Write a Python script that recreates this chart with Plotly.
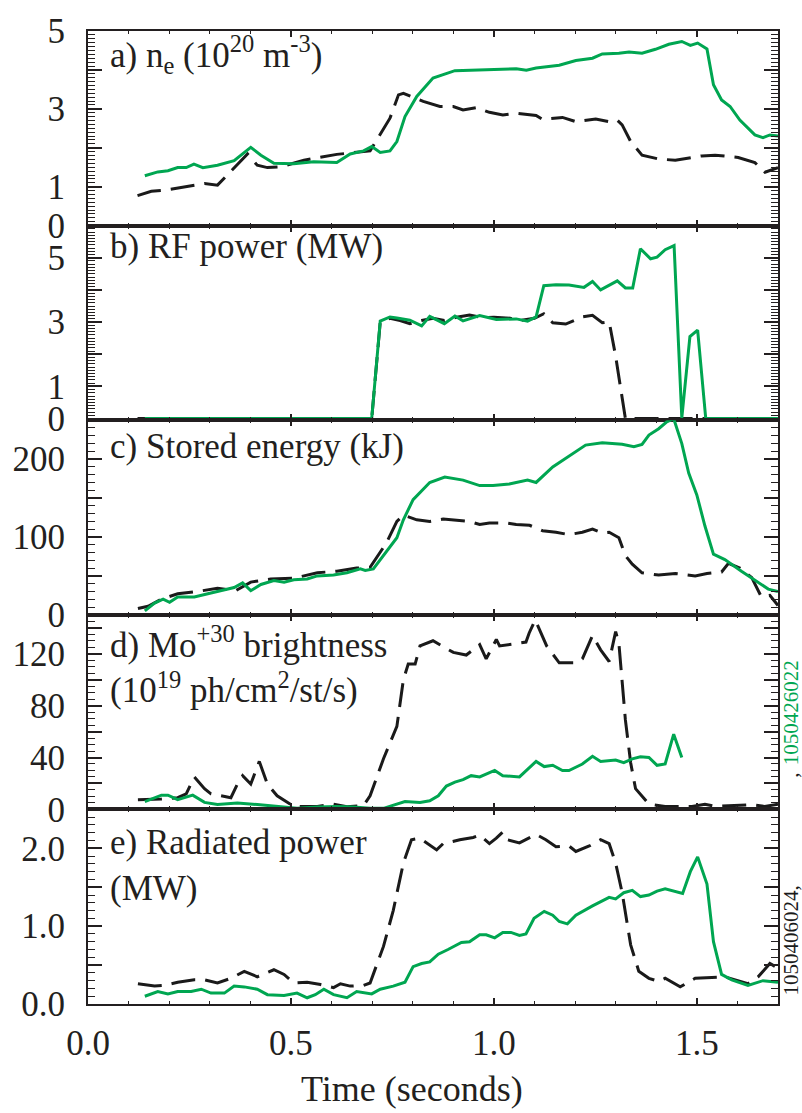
import plotly.graph_objects as go
from plotly.subplots import make_subplots

# ---------------- data ----------------
# a) electron density (1e20 m^-3)
ta_k = [0.122,0.156,0.189,0.287,0.319,0.393,0.417,0.442,0.475,0.532,0.613,0.695,0.744,0.765,0.777,0.826,0.867,0.900,0.924,0.957,0.989,1.022,1.055,1.104,1.120,1.169,1.202,1.251,1.284,1.304,1.316,1.337,1.365,1.406,1.447,1.512,1.545,1.602,1.643,1.668,1.700]
ne_k = [0.77,0.88,0.91,1.08,1.04,1.84,1.55,1.49,1.51,1.68,1.83,1.92,2.76,3.36,3.40,3.19,3.06,3.06,2.97,3.03,2.91,2.84,2.89,2.83,2.73,2.78,2.67,2.74,2.67,2.71,2.59,2.16,1.81,1.71,1.68,1.79,1.81,1.75,1.62,1.37,1.49]
ta_g = [0.140,0.172,0.197,0.221,0.242,0.261,0.283,0.319,0.360,0.401,0.426,0.458,0.507,0.556,0.613,0.646,0.679,0.699,0.720,0.744,0.761,0.781,0.810,0.850,0.904,0.973,1.055,1.080,1.104,1.161,1.202,1.243,1.267,1.308,1.333,1.365,1.398,1.431,1.463,1.484,1.502,1.525,1.541,1.561,1.582,1.606,1.643,1.663,1.680,1.700]
ne_g = [1.28,1.38,1.41,1.49,1.49,1.58,1.49,1.55,1.67,2.01,1.81,1.60,1.59,1.64,1.62,1.84,1.92,2.03,1.88,1.92,2.16,2.80,3.32,3.79,3.98,4.00,4.03,3.99,4.05,4.12,4.24,4.30,4.41,4.43,4.46,4.43,4.53,4.66,4.73,4.63,4.69,4.54,3.62,3.23,3.06,2.71,2.33,2.26,2.33,2.30]

# b) RF power (MW)
tb_k = [0.122,0.699,0.720,0.744,0.769,0.793,0.822,0.850,0.878,0.908,0.940,0.970,1.000,1.040,1.065,1.100,1.123,1.145,1.177,1.218,1.243,1.267,1.284,1.300,1.324,1.700]
rf_k = [0,0,3.00,3.12,3.05,2.95,3.05,3.12,3.05,3.15,3.22,3.14,3.15,3.12,3.05,3.12,3.26,2.98,2.94,3.16,3.21,2.98,3.01,1.94,0,0]
tb_g = [0.140,0.699,0.720,0.744,0.761,0.793,0.822,0.842,0.878,0.904,0.924,0.965,1.006,1.055,1.083,1.104,1.123,1.153,1.185,1.222,1.243,1.263,1.304,1.324,1.342,1.361,1.386,1.402,1.422,1.444,1.463,1.483,1.502,1.522,1.700]
rf_g = [0,0,3.03,3.16,3.13,3.06,2.88,3.18,2.95,3.19,3.04,3.20,3.08,3.10,3.03,3.16,4.13,4.16,4.15,4.08,4.26,4.00,4.28,4.06,4.06,5.28,4.97,5.02,5.25,5.38,0.02,2.55,2.75,0,0]

# c) stored energy (kJ)
tc_k = [0.123,0.148,0.181,0.221,0.270,0.319,0.364,0.401,0.450,0.507,0.532,0.565,0.613,0.662,0.695,0.736,0.761,0.777,0.810,0.842,0.875,0.900,0.940,0.965,0.989,1.030,1.055,1.088,1.120,1.153,1.185,1.218,1.243,1.267,1.284,1.308,1.324,1.341,1.365,1.406,1.447,1.496,1.525,1.561,1.578,1.606,1.635,1.659,1.680,1.700]
we_k = [8,11,20,27,30,34,31,42,46,47,50,54,56,60,61,93,120,128,122,120,123,122,120,116,118,118,116,115,108,106,103,106,110,105,106,99,76,65,54,51,53,50,53,55,66,60,48,23,25,12]
tc_g = [0.140,0.164,0.185,0.201,0.221,0.262,0.303,0.360,0.381,0.401,0.426,0.458,0.483,0.507,0.540,0.565,0.605,0.638,0.671,0.683,0.703,0.744,0.761,0.777,0.801,0.842,0.879,0.924,0.965,0.998,1.038,1.083,1.104,1.145,1.185,1.226,1.267,1.316,1.345,1.365,1.382,1.406,1.426,1.443,1.463,1.480,1.500,1.520,1.541,1.569,1.610,1.643,1.676,1.700]
we_g = [5,15,20,16,23,23,28,35,41,31,39,44,42,45,46,50,51,54,59,57,59,88,99,122,148,170,177,173,166,166,168,173,170,190,204,218,221,219,216,219,231,239,248,252,220,182,154,114,78,71,56,44,33,30]

# d) Mo+30 brightness (1e19 ph/cm2/st/s)
td_k = [0.123,0.181,0.221,0.242,0.262,0.287,0.303,0.352,0.368,0.381,0.401,0.422,0.442,0.466,0.507,0.565,0.605,0.638,0.679,0.695,0.728,0.761,0.777,0.789,0.806,0.818,0.850,0.900,0.932,0.965,0.981,1.006,1.014,1.038,1.079,1.087,1.102,1.130,1.161,1.202,1.218,1.243,1.263,1.284,1.300,1.308,1.324,1.337,1.349,1.382,1.422,1.488,1.520,1.545,1.594,1.635,1.667,1.700]
mo_k = [7.5,8,9,12,25,16,12,9,19.5,26,19.5,37,19.5,10.5,2.3,2.3,4,2,3,10.5,39,64,100,112,112,126,130,121,119,127,116,131,126,127,129,136,146,126,113,113,116,134,123,114,137,128,69,36,16,4,2.3,2.3,4,2.3,3,3.6,2.3,4]
td_g = [0.140,0.181,0.197,0.221,0.258,0.287,0.319,0.368,0.417,0.466,0.515,0.565,0.613,0.654,0.695,0.728,0.781,0.818,0.842,0.863,0.883,0.904,0.924,0.944,0.965,1.002,1.022,1.063,1.104,1.124,1.145,1.169,1.185,1.218,1.243,1.263,1.300,1.320,1.341,1.361,1.382,1.402,1.422,1.443,1.463]
mo_g = [6,11,11,7.5,11,5.4,3.8,4.9,3.8,2.3,0.8,1.8,2.3,1.8,0.8,0.8,6,5.4,6.7,10.5,18,21,23,26,25,30,26,25,37,33,34,30,30,35,41,37,38,36,39,40.5,40,34,35,58,40]

# e) radiated power (MW)
te_k = [0.123,0.164,0.189,0.221,0.262,0.287,0.319,0.352,0.385,0.417,0.458,0.483,0.507,0.540,0.573,0.605,0.622,0.646,0.679,0.695,0.728,0.752,0.777,0.797,0.818,0.859,0.875,0.916,0.949,0.965,0.989,1.006,1.022,1.034,1.063,1.104,1.128,1.153,1.185,1.202,1.235,1.263,1.284,1.300,1.316,1.337,1.357,1.382,1.406,1.422,1.459,1.496,1.537,1.569,1.626,1.651,1.680,1.700]
pr_k = [0.26,0.23,0.24,0.28,0.31,0.31,0.27,0.33,0.42,0.35,0.44,0.38,0.27,0.28,0.25,0.21,0.26,0.23,0.24,0.27,0.74,1.20,1.81,2.11,2.13,1.98,2.06,2.11,2.14,2.17,2.06,2.13,2.21,2.11,2.07,2.18,2.11,2.02,2.03,1.96,2.03,2.11,2.06,1.81,1.43,0.76,0.42,0.33,0.29,0.33,0.22,0.33,0.34,0.35,0.26,0.35,0.52,0.46]
te_g = [0.140,0.172,0.197,0.221,0.254,0.279,0.303,0.336,0.360,0.385,0.417,0.442,0.483,0.515,0.540,0.560,0.581,0.605,0.638,0.662,0.699,0.720,0.752,0.781,0.801,0.822,0.842,0.863,0.887,0.920,0.940,0.965,0.981,1.002,1.022,1.042,1.063,1.079,1.099,1.124,1.145,1.161,1.181,1.202,1.243,1.284,1.300,1.320,1.341,1.361,1.382,1.402,1.422,1.443,1.465,1.484,1.502,1.525,1.541,1.561,1.586,1.626,1.663,1.700]
pr_g = [0.10,0.16,0.13,0.16,0.16,0.19,0.14,0.14,0.23,0.22,0.19,0.12,0.11,0.14,0.08,0.12,0.19,0.12,0.08,0.16,0.13,0.19,0.23,0.28,0.48,0.52,0.54,0.64,0.70,0.79,0.80,0.89,0.89,0.85,0.92,0.92,0.88,0.90,1.10,1.19,1.14,1.06,1.03,1.14,1.26,1.37,1.35,1.43,1.46,1.38,1.40,1.45,1.48,1.45,1.42,1.70,1.89,1.54,0.80,0.38,0.31,0.24,0.30,0.28]

# axis tick labels
x_ticks = [0.0, 0.5, 1.0, 1.5]
x_labels = ["0.0", "0.5", "1.0", "1.5"]
ya_vals = [0, 1, 2, 3, 4, 5];            ya_text = ["0", "1", "", "3", "", "5"]
yb_vals = [0, 1, 2, 3, 4, 5, 6];         yb_text = ["0", "1", "", "3", "", "5", ""]
yc_vals = [0, 50, 100, 150, 200, 250];   yc_text = ["0", "", "100", "", "200", ""]
yd_vals = [0, 20, 40, 60, 80, 100, 120, 140]; yd_text = ["0", "", "40", "", "80", "", "120", ""]
ye_vals = [0, 0.5, 1.0, 1.5, 2.0, 2.5];  ye_text = ["0.0", "", "1.0", "", "2.0", ""]

panel_labels = [
    "a) n<sub>e</sub> (10<sup>20</sup> m<sup>-3</sup>)",
    "b) RF power (MW)",
    "c) Stored energy (kJ)",
    "d) Mo<sup>+30</sup> brightness<br>(10<sup>19</sup> ph/cm<sup>2</sup>/st/s)",
    "e) Radiated power<br>(MW)",
]
shot_green = "1050426022"
shot_black = "1050406024,"

# ---------------- styling ----------------
GREEN = "#00a651"
BLACK = "#1a1a1a"
TXT = "#231f20"
FONT = "Liberation Serif, Times New Roman, serif"
FS = 35

W, H = 802, 1113
ML, MR, MT, MB = 83, 24, 23, 109
PH = H - MT - MB
PW = W - ML - MR

def py(ypx):
    return (H - MB - ypx) / PH

def px(xpx):
    return (xpx - ML) / PW

fig = make_subplots(rows=5, cols=1, shared_xaxes=True, vertical_spacing=0)

series = [(ta_k, ne_k, ta_g, ne_g), (tb_k, rf_k, tb_g, rf_g), (tc_k, we_k, tc_g, we_g),
          (td_k, mo_k, td_g, mo_g), (te_k, pr_k, te_g, pr_g)]
for i, (tk, yk, tg, yg) in enumerate(series, start=1):
    fig.add_trace(go.Scatter(x=tk, y=yk, mode="lines",
                             line=dict(color=BLACK, width=3, dash="24px,10px")), row=i, col=1)
    fig.add_trace(go.Scatter(x=tg, y=yg, mode="lines",
                             line=dict(color=GREEN, width=3)), row=i, col=1)

yspecs = [
    ([0, 5], ya_vals, ya_text, 0.1),
    ([-0.05, 6], yb_vals, yb_text, 0.1),
    ([0, 250], yc_vals, yc_text, 10),
    ([0, 150], yd_vals, yd_text, 5),
    ([0, 2.5], ye_vals, ye_text, 0.1),
]
for i, (rng, vals, text, mdt) in enumerate(yspecs, start=1):
    fig.update_yaxes(row=i, col=1, range=rng, tickmode="array", tickvals=vals, ticktext=text,
                     ticks="inside", ticklen=14, tickwidth=1.5, tickcolor=TXT,
                     minor=dict(ticks="inside", ticklen=7, dtick=mdt, tick0=0, tickwidth=1, tickcolor=TXT),
                     showline=True, linecolor=TXT, linewidth=2, mirror="ticks",
                     showgrid=False, zeroline=False, ticklabelstandoff=14,
                     tickfont=dict(family=FONT, size=FS, color=TXT))
    fig.update_xaxes(row=i, col=1, range=[0, 1.7], tickmode="array", tickvals=x_ticks, ticktext=x_labels,
                     ticks="inside", ticklen=6, tickwidth=1.5, tickcolor=TXT,
                     minor=dict(ticks="inside", ticklen=3, dtick=0.1, tick0=0, tickwidth=1, tickcolor=TXT),
                     showline=True, linecolor=TXT, linewidth=2, mirror="ticks",
                     showgrid=False, zeroline=False, showticklabels=(i == 5), ticklabelstandoff=7,
                     tickfont=dict(family=FONT, size=FS, color=TXT))

label_centers = [47, 240, 442, 662, 864]
annotations = []
for lab, yc in zip(panel_labels, label_centers):
    annotations.append(dict(text=lab, xref="paper", yref="paper", x=px(103),
                            y=py(yc), xanchor="left", yanchor="middle", align="left", showarrow=False,
                            font=dict(family=FONT, size=FS, color=TXT)))
annotations.append(dict(text="Time (seconds)", xref="paper", yref="paper", x=px(409),
                        y=py(1090), xanchor="center", yanchor="middle", showarrow=False,
                        font=dict(family=FONT, size=FS + 1, color=TXT)))
for txt, col, ymid in [(shot_green, GREEN, 710), (",", BLACK, 773), (shot_black, BLACK, 940)]:
    annotations.append(dict(text=txt, xref="paper", yref="paper", x=px(791), y=py(ymid), textangle=-90,
                            xanchor="center", yanchor="middle", showarrow=False, borderpad=0,
                            font=dict(family=FONT, size=21, color=col)))

fig.update_layout(width=W, height=H, margin=dict(l=ML, r=MR, t=MT, b=MB),
                  paper_bgcolor="white", plot_bgcolor="white", showlegend=False,
                  annotations=annotations)

fig.write_html("out.html", config={"displayModeBar": False},
               post_script="document.body.style.margin='0';document.body.style.padding='0';"
                           "document.body.style.overflow='hidden';")
